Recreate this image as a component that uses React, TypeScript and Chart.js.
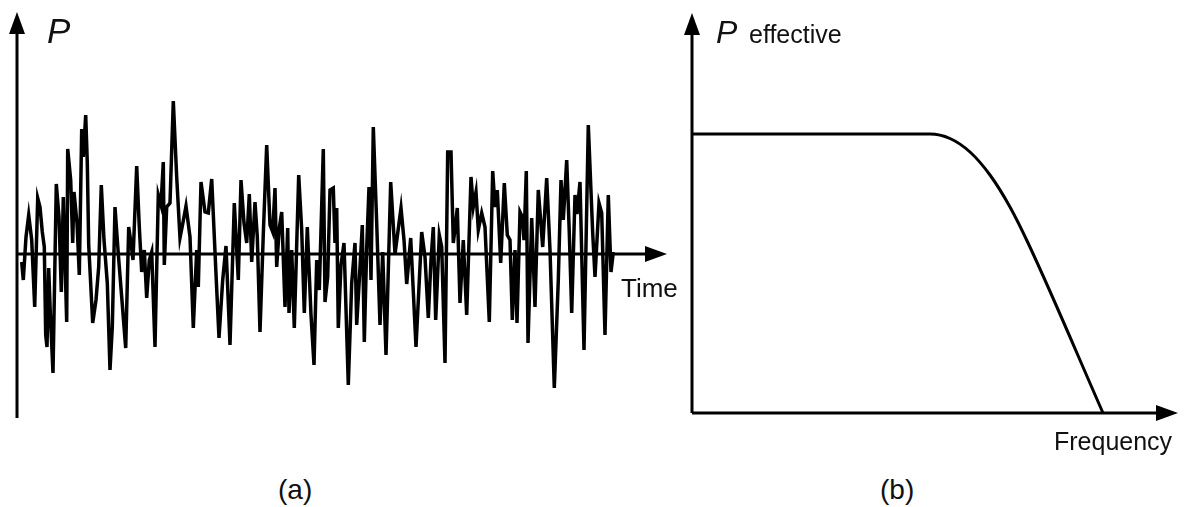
import React, { useEffect, useRef } from "react";
import { Chart, registerables } from "chart.js";

Chart.register(...registerables);

// Panel (a): fluctuating power P versus time (arbitrary units)
const noiseTime = [
  4.7, 6.3, 9, 11.7, 14.7, 17.7, 20.7, 23, 25.3, 27.3,
  28.7, 30, 31.7, 33.3, 36, 39.3, 42, 44.3, 46.3, 49.7,
  50.7, 53.7, 55.7, 57, 60, 62.3, 64.7, 66.3, 68.7, 70.3,
  71.7, 75.7, 79, 81.7, 84.3, 87, 90.3, 93, 95.3, 98,
  101.3, 104.7, 108.7, 111.7, 114, 116, 119.7, 122.3, 124.7, 127.3,
  129.7, 132.3, 134.7, 138, 141.3, 144, 146.3, 147.3, 149.7, 153,
  156.3, 159.7, 163, 165.7, 169, 173, 176.3, 179.7, 181.3, 184,
  188, 191.3, 194.7, 199, 202, 205.7, 209, 213, 217.3, 221.3,
  224, 227, 229.7, 232.3, 234.7, 238, 240.3, 243, 246.3, 249.7,
  253, 255.7, 258, 259.7, 262.3, 264.7, 268, 270.7, 272, 274.7,
  277.3, 281.7, 284.7, 287.3, 290.3, 294, 297, 299.7, 302.3, 306.3,
  308, 310.7, 313, 316.3, 318, 319.7, 321.3, 324, 327, 331.3,
  334.7, 338, 339.7, 342.3, 345.3, 347.3, 349.7, 352, 354, 356.3,
  359.7, 363, 365.7, 369, 373.7, 378, 384, 387, 389.7, 393.7,
  399, 404.7, 408, 411.3, 414, 416.3, 418.7, 422.3, 424.7, 428,
  430.7, 434, 436.3, 438.7, 440.3, 443, 446.3, 449.7, 454, 456.3,
  459, 461.3, 464.7, 468, 472.3, 475.7, 478, 480.3, 483.7, 487.3,
  490.3, 493, 495.3, 498, 500, 503, 505.3, 507, 509.3, 511,
  514.7, 518, 521.3, 525.7, 529.7, 533, 537.3, 541.3, 544, 546.3,
  549.7, 552.3, 554.7, 558, 560, 563, 567, 571.3, 575.7, 578,
  582, 584.7, 588, 591.3, 594, 596.3,
];

const noisePower = [
  -8, -26, 17, 39, 14, -53, 56, 47, 22, 7,
  -81, -93, -14, -59, -119, 70, 37, -38, 57, -68,
  105, 74, 11, 62, 31, -21, 125, 97, 139, 91,
  9, -69, -46, -13, 69, 14, -29, -116, -73, 47,
  0, -43, -94, 27, 11, -6, 88, 27, -18, 4,
  -44, -6, 2, -93, 59, 49, 92, -11, 47, 51,
  153, 77, 16, 30, 48, 17, -74, 4, -33, 72,
  42, 41, 75, -20, -84, -26, 8, -91, 51, -26,
  74, 31, 11, 60, -8, 52, 17, -78, 20, 109,
  29, 22, 66, -13, 26, 42, -53, 26, -59, 4,
  -74, 79, 24, -59, 27, -61, -111, -6, -36, 105,
  -48, -23, 64, 66, 11, 46, -74, -11, 11, -131,
  -29, 11, -71, -26, 29, -88, 6, 67, -26, 127,
  31, -71, 2, -101, 72, 0, 46, 14, -30, 16,
  -93, 22, -3, -64, -6, 27, -66, 19, 7, -109,
  102, 102, 11, 31, 46, -49, 14, -61, 77, 47,
  62, 24, 41, 27, -68, 83, 47, 64, -9, 71,
  19, 14, -66, 4, -69, 42, 37, 14, 83, -89,
  36, -53, 64, 7, 76, 4, -134, -26, 74, 34,
  94, 21, -59, 59, 40, 72, -96, 129, 21, -23,
  51, 41, -81, 59, -18, 2,
];

// Panel (b): effective power versus frequency (arbitrary units)
const frequency = [0, 238, 258, 278, 298, 318, 337, 411];
const pEffective = [279, 279, 274.5, 261, 238, 206, 168, 0];

// Axis extents (data units) for the arrowed axes
const axisA = { xFrom: 0, xTo: 650, yFrom: -164, yTo: 242 };
const axisB = { xFrom: 0, xTo: 486, yFrom: 0, yTo: 400 };

type AxisSpec = { xFrom: number; xTo: number; yFrom: number; yTo: number };

function arrowAxesPlugin(spec: AxisSpec) {
  return {
    id: "arrowAxes",
    afterDatasetsDraw(chart: any) {
      const { ctx } = chart;
      const xs = chart.scales.x;
      const ys = chart.scales.y;
      const x0 = xs.getPixelForValue(0);
      const y0 = ys.getPixelForValue(0);
      const xEnd = xs.getPixelForValue(spec.xTo);
      const xStart = xs.getPixelForValue(spec.xFrom);
      const yTop = ys.getPixelForValue(spec.yTo);
      const yBottom = ys.getPixelForValue(spec.yFrom);
      const L = 22;
      const H = 8;
      ctx.save();
      ctx.strokeStyle = "#000";
      ctx.fillStyle = "#000";
      ctx.lineWidth = 3;
      ctx.lineCap = "butt";
      // vertical axis
      ctx.beginPath();
      ctx.moveTo(x0, yBottom);
      ctx.lineTo(x0, yTop + L - 2);
      ctx.stroke();
      ctx.beginPath();
      ctx.moveTo(x0, yTop);
      ctx.lineTo(x0 - H, yTop + L);
      ctx.lineTo(x0 + H, yTop + L);
      ctx.closePath();
      ctx.fill();
      // horizontal axis
      ctx.beginPath();
      ctx.moveTo(xStart, y0);
      ctx.lineTo(xEnd - L + 2, y0);
      ctx.stroke();
      ctx.beginPath();
      ctx.moveTo(xEnd, y0);
      ctx.lineTo(xEnd - L, y0 - H);
      ctx.lineTo(xEnd - L, y0 + H);
      ctx.closePath();
      ctx.fill();
      ctx.restore();
    },
  };
}

const FONT = '"Liberation Sans", Arial, Helvetica, sans-serif';

function Label(props: { text: string; left: number; top: number; size: number; italic?: boolean }) {
  return (
    <div
      style={{
        position: "absolute",
        left: props.left,
        top: props.top,
        fontSize: props.size,
        lineHeight: 1,
        fontStyle: props.italic ? "italic" : "normal",
        fontFamily: FONT,
        color: "#111",
        whiteSpace: "nowrap",
      }}
    >
      {props.text}
    </div>
  );
}

export default function App() {
  const refA = useRef<HTMLCanvasElement | null>(null);
  const refB = useRef<HTMLCanvasElement | null>(null);

  useEffect(() => {
    const baseOptions = {
      responsive: false,
      animation: false as const,
      events: [],
      layout: { padding: 0 },
      plugins: { legend: { display: false }, tooltip: { enabled: false }, title: { display: false } },
      elements: { point: { radius: 0 } },
    };

    const chartA = new Chart(refA.current as HTMLCanvasElement, {
      type: "line",
      data: {
        datasets: [
          {
            data: noiseTime.map((t, i) => ({ x: t, y: noisePower[i] })),
            borderColor: "#000",
            borderWidth: 3.5,
            pointRadius: 0,
            tension: 0,
            borderJoinStyle: "miter",
            fill: false,
          },
        ],
      },
      options: {
        ...baseOptions,
        scales: {
          x: { type: "linear", display: false, min: -17, max: 683 },
          y: { type: "linear", display: false, min: -186, max: 254 },
        },
      } as any,
      plugins: [arrowAxesPlugin(axisA)],
    });

    const chartB = new Chart(refB.current as HTMLCanvasElement, {
      type: "line",
      data: {
        datasets: [
          {
            data: frequency.map((f, i) => ({ x: f, y: pEffective[i] })),
            borderColor: "#000",
            borderWidth: 3,
            pointRadius: 0,
            cubicInterpolationMode: "monotone",
            fill: false,
          },
        ],
      },
      options: {
        ...baseOptions,
        scales: {
          x: { type: "linear", display: false, min: -12, max: 497 },
          y: { type: "linear", display: false, min: -27, max: 413 },
        },
      } as any,
      plugins: [arrowAxesPlugin(axisB)],
    });

    return () => {
      chartA.destroy();
      chartB.destroy();
    };
  }, []);

  return (
    <div
      style={{
        position: "fixed",
        left: 0,
        top: 0,
        width: 1189,
        height: 507,
        background: "#fff",
        overflow: "hidden",
      }}
    >
      <canvas ref={refA} width={700} height={440} style={{ position: "absolute", left: 0, top: 0 }} />
      <canvas ref={refB} width={509} height={440} style={{ position: "absolute", left: 680, top: 0 }} />
      <Label text="P" left={47} top={13} size={35} italic />
      <Label text="Time" left={621} top={275} size={26} />
      <Label text="(a)" left={278} top={476} size={28} />
      <Label text="P" left={716} top={16} size={32} italic />
      <Label text="effective" left={749} top={22} size={25} />
      <Label text="Frequency" left={1054} top={429} size={25} />
      <Label text="(b)" left={880} top={476} size={28} />
    </div>
  );
}
